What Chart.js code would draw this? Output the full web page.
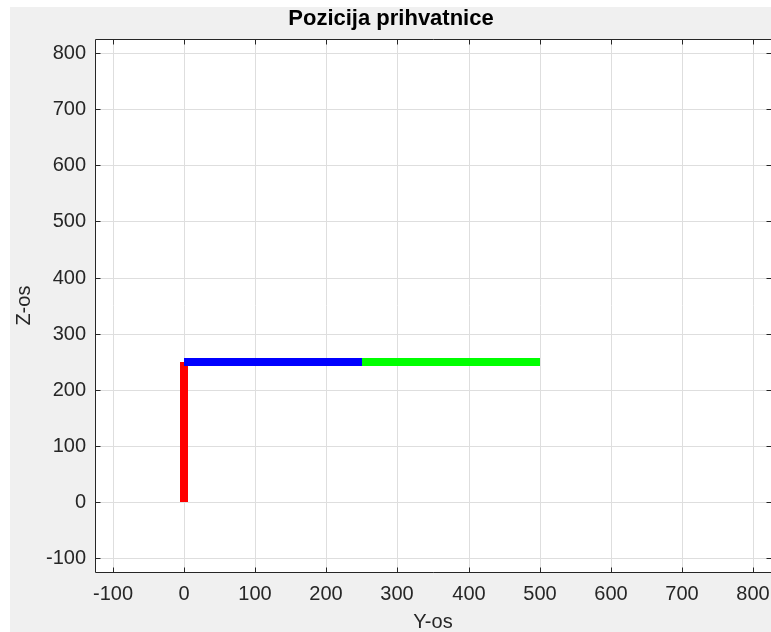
<!DOCTYPE html>
<html>
<head>
<meta charset="utf-8">
<script src="https://cdn.jsdelivr.net/npm/chart.js@4.4.1/dist/chart.umd.min.js"></script>
<style>
  html, body { margin: 0; padding: 0; overflow: hidden; background: #ffffff; }
  canvas { display: block; }
</style>
</head>
<body>
<canvas id="c" width="771" height="632"></canvas>
<script>
// ---- data ----
const xTicks = [-100, 0, 100, 200, 300, 400, 500, 600, 700, 800];
const yTicks = [-100, 0, 100, 200, 300, 400, 500, 600, 700, 800];
const xRange = [-125, 825];
const yRange = [-125, 825];

const redX = [0, 0];
const redY = [0, 250];
const blueX = [0, 250];
const blueY = [250, 250];
const greenX = [250, 500];
const greenY = [250, 250];

const titleText = 'Pozicija prihvatnice';
const xLabel = 'Y-os';
const yLabel = 'Z-os';

function pts(xs, ys) { return xs.map((x, i) => ({ x: x, y: ys[i] })); }

const FONT = "'Liberation Sans', Arial, Helvetica, sans-serif";
const AXIS_COLOR = '#262626';
const GRID_COLOR = 'rgb(222,222,222)';

const framePlugin = {
  id: 'frame',
  beforeDraw(chart) {
    const c = chart.ctx, a = chart.chartArea;
    c.save();
    c.fillStyle = '#ffffff';
    c.fillRect(0, 0, chart.width, chart.height);
    c.fillStyle = '#f0f0f0';
    c.fillRect(10, 7, chart.width - 10, chart.height - 7);
    c.fillStyle = '#ffffff';
    c.fillRect(a.left, a.top, chart.width - a.left, a.bottom - a.top);
    c.restore();
  },
  afterDatasetsDraw(chart) {
    const c = chart.ctx, a = chart.chartArea;
    const xs = chart.scales.x, ys = chart.scales.y;
    const L = Math.round(a.left) + 0.5;
    const R = Math.max(Math.round(a.right), chart.width) + 1.5;
    const T = Math.round(a.top) + 0.5, B = Math.round(a.bottom) + 0.5;
    c.save();
    c.strokeStyle = AXIS_COLOR;
    c.lineWidth = 1;
    c.beginPath();
    c.moveTo(R, T); c.lineTo(L, T); c.lineTo(L, B); c.lineTo(R, B);
    c.stroke();
    const tl = 5;
    c.beginPath();
    xTicks.forEach(v => {
      const p = Math.round(xs.getPixelForValue(v)) + 0.5;
      c.moveTo(p, B); c.lineTo(p, B - tl);
      c.moveTo(p, T); c.lineTo(p, T + tl);
    });
    yTicks.forEach(v => {
      const p = Math.round(ys.getPixelForValue(v)) + 0.5;
      c.moveTo(L, p); c.lineTo(L + tl, p);
      c.moveTo(R, p); c.lineTo(R - tl - 1, p);
    });
    c.stroke();
    c.restore();
  }
};

const lineDs = (label, xs, ys, color) => ({
  label: label,
  data: pts(xs, ys),
  showLine: true,
  borderColor: color,
  backgroundColor: color,
  borderWidth: 8,
  borderCapStyle: 'butt',
  pointRadius: 0,
  fill: false,
  tension: 0
});

new Chart(document.getElementById('c'), {
  type: 'scatter',
  data: {
    datasets: [
      lineDs('blue', blueX, blueY, '#0000ff'),
      lineDs('green', greenX, greenY, '#00ff00'),
      lineDs('red', redX, redY, '#ff0000')
    ]
  },
  options: {
    responsive: false,
    animation: false,
    devicePixelRatio: 1,
    layout: { padding: { left: 10, top: 7, right: -1, bottom: 0 } },
    plugins: {
      legend: { display: false },
      tooltip: { enabled: false },
      title: {
        display: true,
        text: titleText,
        color: '#000000',
        font: { family: FONT, size: 22, weight: 'bold', lineHeight: 1.1 },
        padding: { top: 0, bottom: 8 }
      }
    },
    scales: {
      x: {
        type: 'linear',
        position: 'bottom',
        min: xRange[0],
        max: xRange[1],
        alignToPixels: true,
        afterBuildTicks(s) { s.ticks = xTicks.map(v => ({ value: v })); },
        afterFit(s) { s.height = 60; s.paddingLeft = 0; s.paddingRight = 0; },
        border: { display: false },
        grid: { color: GRID_COLOR, lineWidth: 1, drawTicks: false },
        ticks: {
          autoSkip: false, maxRotation: 0, minRotation: 0,
          padding: 10, color: AXIS_COLOR,
          font: { family: FONT, size: 20 }
        },
        title: {
          display: true, text: xLabel, color: AXIS_COLOR,
          font: { family: FONT, size: 20, lineHeight: 1 },
          padding: 0
        }
      },
      y: {
        type: 'linear',
        position: 'left',
        min: yRange[0],
        max: yRange[1],
        alignToPixels: true,
        afterBuildTicks(s) { s.ticks = yTicks.map(v => ({ value: v })); },
        afterFit(s) { s.width = 85; s.paddingTop = 0; s.paddingBottom = 0; },
        border: { display: false },
        grid: { color: GRID_COLOR, lineWidth: 1, drawTicks: false },
        ticks: {
          autoSkip: false, padding: 9, color: AXIS_COLOR,
          font: { family: FONT, size: 20 }
        },
        title: {
          display: true, text: yLabel, color: AXIS_COLOR,
          font: { family: FONT, size: 20, lineHeight: 1 },
          padding: { top: 4, bottom: 0 }
        }
      }
    }
  },
  plugins: [framePlugin]
});
</script>
</body>
</html>
